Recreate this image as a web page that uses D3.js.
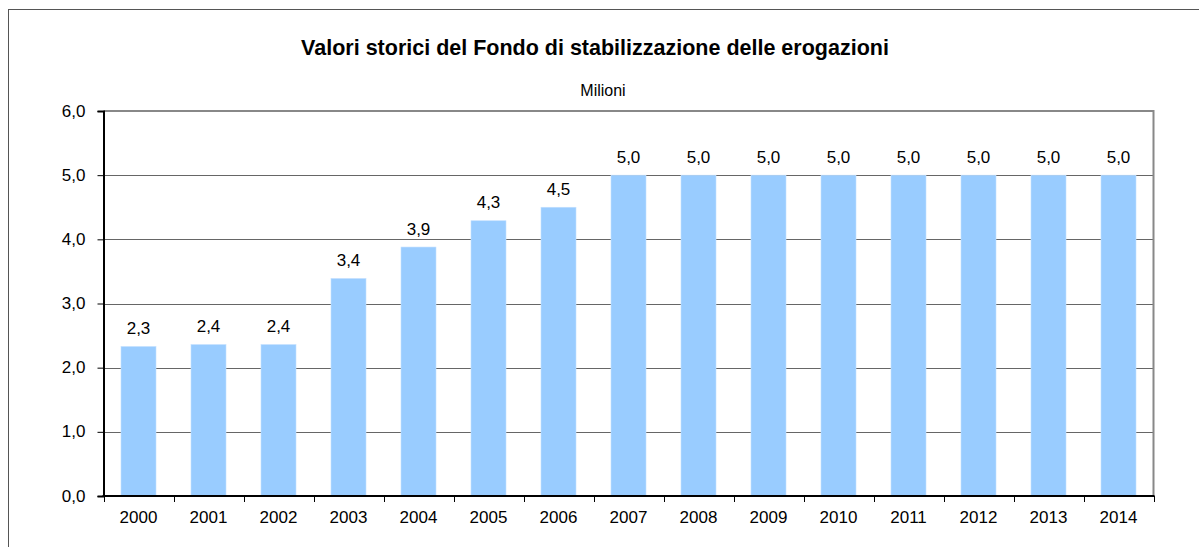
<!DOCTYPE html>
<html>
<head>
<meta charset="utf-8">
<script src="https://cdn.jsdelivr.net/npm/d3@7"></script>
<style>
  html, body { margin: 0; padding: 0; background: #fff; }
  svg { display: block; font-family: "Liberation Sans", Arial, sans-serif; }
</style>
</head>
<body>
<svg id="chart" width="1199" height="547"></svg>
<script>
const categories = ["2000","2001","2002","2003","2004","2005","2006","2007","2008","2009","2010","2011","2012","2013","2014"];
const values = [2.33, 2.36, 2.36, 3.39, 3.88, 4.29, 4.50, 5.0, 5.0, 5.0, 5.0, 5.0, 5.0, 5.0, 5.0];
const valueLabels = ["2,3","2,4","2,4","3,4","3,9","4,3","4,5","5,0","5,0","5,0","5,0","5,0","5,0","5,0","5,0"];
const yTicks = [0, 1, 2, 3, 4, 5, 6];
const title = "Valori storici del Fondo di stabilizzazione delle erogazioni";
const subtitle = "Milioni";

(function () {
const svg = d3.select("#chart");
const pLeft = 103.5, pRight = 1153.5, pTop = 111, pBottom = 496;

// outer chart border
svg.append("rect").attr("x", 8.5).attr("y", 9.5).attr("width", 1200).attr("height", 545)
  .attr("fill", "none").attr("stroke", "#555").attr("stroke-width", 1);

const x = d3.scaleBand().domain(categories).range([pLeft, pRight]).paddingInner(0.5).paddingOuter(0.25);
const y = d3.scaleLinear().domain([0, 6]).range([pBottom, pTop]);
const fmt = v => d3.format(".1f")(v).replace(".", ",");

// gridlines
svg.append("g").selectAll("line").data(yTicks.filter(t => t > 0 && t < 6)).join("line")
  .attr("x1", pLeft).attr("x2", pRight)
  .attr("y1", d => Math.round(y(d)) + 0.5).attr("y2", d => Math.round(y(d)) + 0.5)
  .attr("stroke", "#666").attr("stroke-width", 1);

// plot top & right border
svg.append("path")
  .attr("d", `M${pLeft},${pTop} H${pRight} V${pBottom}`)
  .attr("fill", "none").attr("stroke", "#888").attr("stroke-width", 2);

// bars
svg.append("g").selectAll("rect").data(categories).join("rect")
  .attr("x", d => x(d)).attr("width", x.bandwidth())
  .attr("y", (d, i) => y(values[i])).attr("height", (d, i) => pBottom - y(values[i]))
  .attr("fill", "#99CCFF").attr("stroke", "#C4E0FF").attr("stroke-width", 0.6);

// value labels
svg.append("g").selectAll("text").data(categories).join("text")
  .attr("x", d => x(d) + x.bandwidth() / 2)
  .attr("y", (d, i) => y(values[i]) - 12.5)
  .attr("text-anchor", "middle").attr("font-size", 17).attr("fill", "#000")
  .text((d, i) => valueLabels[i]);

// y axis
const yAxis = d3.axisLeft(y).tickValues(yTicks).tickFormat(fmt).tickSize(6).tickPadding(12);
const gy = svg.append("g").attr("transform", `translate(${pLeft},0)`).call(yAxis);
gy.select(".domain").attr("stroke", "#000").attr("stroke-width", 2);
gy.selectAll(".tick line").attr("stroke", "#000");
gy.selectAll(".tick text").attr("font-size", 17).attr("fill", "#000")
  .attr("font-family", "'Liberation Sans', Arial, sans-serif").attr("dy", "0.3em");

// x axis with ticks at category boundaries
const boundaries = d3.scaleLinear().domain([0, categories.length]).range([pLeft, pRight]);
const gx = svg.append("g");
gx.append("line").attr("x1", pLeft - 1).attr("x2", pRight + 1).attr("y1", pBottom).attr("y2", pBottom)
  .attr("stroke", "#000").attr("stroke-width", 2);
gx.selectAll("line.tk").data(d3.range(categories.length + 1)).join("line").attr("class", "tk")
  .attr("x1", d => Math.round(boundaries(d)) + 0.5).attr("x2", d => Math.round(boundaries(d)) + 0.5)
  .attr("y1", pBottom).attr("y2", pBottom + 6).attr("stroke", "#000").attr("stroke-width", 1);
gx.selectAll("text").data(categories).join("text")
  .attr("x", d => x(d) + x.bandwidth() / 2).attr("y", 522.5)
  .attr("text-anchor", "middle").attr("font-size", 17).attr("fill", "#000").text(d => d);

// titles
svg.append("text").attr("x", 595).attr("y", 55).attr("text-anchor", "middle")
  .attr("font-size", 21.5).attr("font-weight", "bold").attr("fill", "#000").text(title);
svg.append("text").attr("x", 603).attr("y", 96).attr("text-anchor", "middle")
  .attr("font-size", 16).attr("fill", "#000").text(subtitle);
})();
</script>
</body>
</html>
